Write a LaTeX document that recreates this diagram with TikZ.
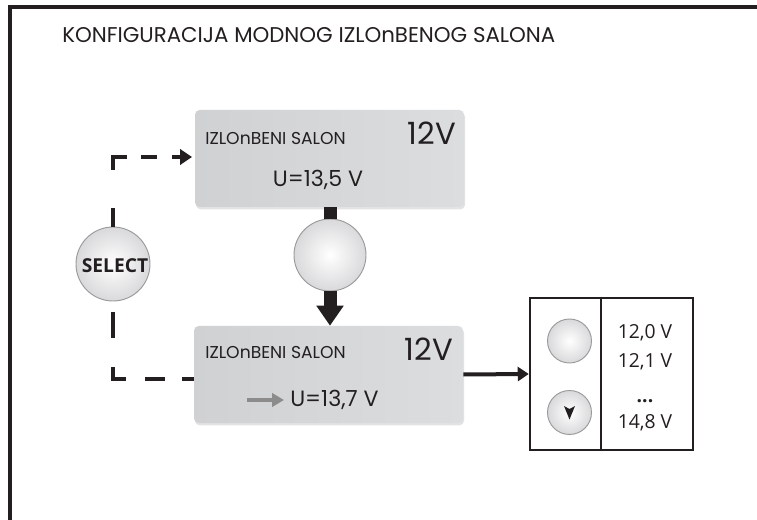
\documentclass[tikz,border=0pt]{standalone}
\usepackage{fontspec}
\setmainfont{Poppins}
\newfontfamily\osans{Open Sans}
\usetikzlibrary{arrows.meta,shadows,calc}
\definecolor{ink}{HTML}{231F20}
\definecolor{boxA}{HTML}{D0D1D3}
\definecolor{boxB}{HTML}{DCDDDF}
\definecolor{btnedge}{HTML}{9A9A9A}
\definecolor{btnout}{HTML}{D9D9DB}
\definecolor{garrow}{HTML}{8C8C8C}
\begin{document}
\begin{tikzpicture}[x=0.75pt,y=-0.75pt,
  panel/.style={rectangle, rounded corners=3.5pt, left color=boxA, right color=boxB,
    minimum width=201.75pt, minimum height=72.75pt, inner sep=0pt,
    drop shadow={opacity=0.22, shadow xshift=0.8pt, shadow yshift=-1.8pt}},
  btn/.style={circle, draw=btnedge, line width=0.7pt, inner color=white, outer color=btnout,
    minimum size=#1, inner sep=0pt},
  small/.style={inner sep=0pt, text=ink, font=\fontsize{12.9pt}{14pt}\selectfont},
  big/.style={inner sep=0pt, text=ink, font=\fontsize{23pt}{26pt}\selectfont},
  mid/.style={inner sep=0pt, text=ink, font=\fontsize{16.6pt}{20pt}\selectfont},
  tabtxt/.style={inner sep=0pt, text=ink, font=\osans\fontsize{14.5pt}{17pt}\selectfont},
  dashline/.style={draw=ink, line width=3.4pt, line cap=butt, line join=miter},
  bar/.style={draw=ink, line width=9.75pt, line cap=butt}
]
\useasboundingbox (0,0) rectangle (757,520);
\fill[white] (0,0) rectangle (757,520);
% frame
\draw[ink, line width=3pt, line join=miter] (757,7.5) -- (9.7,7.5) -- (9.7,520);

% title
\node[inner sep=0pt, anchor=west, text=ink, font=\fontsize{16pt}{18pt}\selectfont] (title) at (62,35)
  {KONFIGURACIJA MODNOG IZLOnBENOG SALONA};

% panels
\node[panel] (top) at (329.5,158.5) {};
\node[panel] (low) at (328.5,374.5) {};

\node[small, anchor=west] (t1) at (205,138) {IZLOnBENI SALON};
\node[big, anchor=east] (t2) at (456,133) {12V};
\node[mid] (t3) at (318,180) {U=13,5 V};

\node[small, anchor=west] (l1) at (205,352) {IZLOnBENI SALON};
\node[big, anchor=east] (l2) at (453,349) {12V};
\node[mid, anchor=west] (l3) at (290,400) {U=13,7 V};
\coordinate (ga) at (247,400);
\coordinate (gb) at (284,400);
\draw[draw=garrow, line width=3pt, -{Triangle[length=9pt,width=10pt]}] (ga) -- (gb);

% middle button
\node[btn=54pt] (mb) at (330,255) {};
\draw[bar] (top.south -| mb.north) -- (mb.north);
\draw[bar, -{Triangle[length=15pt,width=19.5pt]}] (mb.south) -- (low.north -| mb.south);

% select button
\node[btn=55.5pt] (sel) at (113,264) {};
\node[inner sep=0pt, text=ink, font=\osans\bfseries\fontsize{14.4pt}{16pt}\selectfont] (selt) at (115,266) {SELECT};

\coordinate (tin) at (195,157);
\coordinate (lin) at (194,379);
\draw[dashline, dash pattern=on 14.25pt off 28.5pt on 20.25pt off 10.5pt on 12pt off 11.25pt on 30pt,
  -{Triangle[length=9pt,width=11.5pt]}, shorten >=2.25pt] (sel.north) |- (tin);
\draw[dashline, dash pattern=on 0pt off 8.25pt on 19.5pt off 21.75pt on 18.75pt off 14.25pt on 15pt off 12.75pt on 15pt]
  (sel.south) |- (lin);

% table
\node[rectangle, draw=ink, line width=1.9pt, minimum width=122.25pt, minimum height=114pt, inner sep=0pt] (tbl) at (611.5,374) {};
\coordinate (dv) at (601,374);
\draw[ink, line width=1.5pt] (tbl.north -| dv) -- (tbl.south -| dv);
\draw[ink, line width=3pt, -{Triangle[length=8.25pt,width=10.5pt]}] (low.east) -- (tbl.west);

\node[btn=33pt] (b1) at (569.5,341) {};
\node[btn=33pt] (b2) at (569.5,412.5) {};
\fill[ink] ($(b2.center)+(-5.5,-6.5)$) -- ($(b2.center)+(0,-3.5)$) -- ($(b2.center)+(5.5,-6.5)$) -- ($(b2.center)+(0,7)$) -- cycle;

\node[tabtxt] (v1) at (645,333) {12,0 V};
\node[tabtxt] (v2) at (645,362) {12,1 V};
\node[tabtxt, font=\osans\bfseries\fontsize{14.5pt}{17pt}\selectfont] (v3) at (645,401) {...};
\node[tabtxt] (v4) at (645,423) {14,8 V};
\end{tikzpicture}
\end{document}
